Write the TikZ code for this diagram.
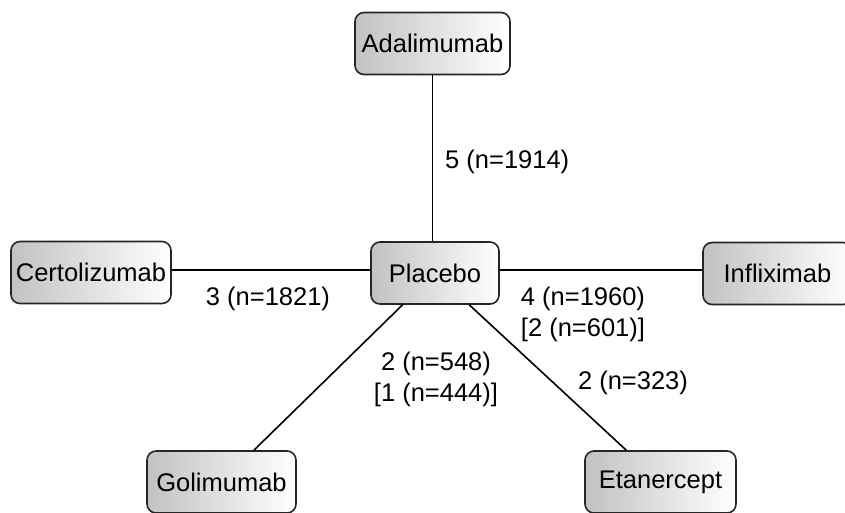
\documentclass[tikz,border=0pt]{standalone}
\usepackage{fontspec}
\setmainfont{Liberation Sans}
\begin{document}
\begin{tikzpicture}[x=1pt,y=-1pt,
  drug/.style={draw=black!85, line width=1.6pt, rounded corners=9pt, left color=black!24, right color=white,
    minimum height=62pt, inner sep=0pt, font=\fontsize{25.5}{30}\selectfont},
  lbl/.style={font=\fontsize{25.5}{31}\selectfont, align=center, inner sep=0pt},
  link/.style={line width=1.6pt, black}]
\useasboundingbox (0,0) rectangle (845,512);
\node[drug, minimum width=155pt] (ada) at (432.5,43.5) {Adalimumab};
\node[drug, minimum width=160pt] (cer) at (91,272.5) {Certolizumab};
\node[drug, minimum width=128pt] (pla) at (435,273) {Placebo};
\node[drug, minimum width=149pt] (inf) at (777.5,273.5) {Infliximab};
\node[drug, minimum width=149pt] (gol) at (221.5,482) {Golimumab};
\node[drug, minimum width=151pt] (eta) at (660.5,482) {Etanercept};
\draw[link] (ada.south) -- (ada.south |- pla.north);
\draw[link] (cer.east |- 0,270) -- (pla.west |- 0,270);
\draw[link] (pla.east |- 0,270) -- (inf.west |- 0,270);
\draw[link] (pla) -- (gol);
\draw[link] (pla) -- (eta);
\node[lbl, anchor=west] (l1) at (445,162) {5 (n=1914)};
\node[lbl] (l2) at (268,299) {3 (n=1821)};
\node[lbl] (l3) at (583,314) {4 (n=1960)\\{}[2 (n=601)]};
\node[lbl] (l4) at (436,379) {2 (n=548)\\{}[1 (n=444)]};
\node[lbl] (l5) at (633,383) {2 (n=323)};
\end{tikzpicture}
\end{document}
